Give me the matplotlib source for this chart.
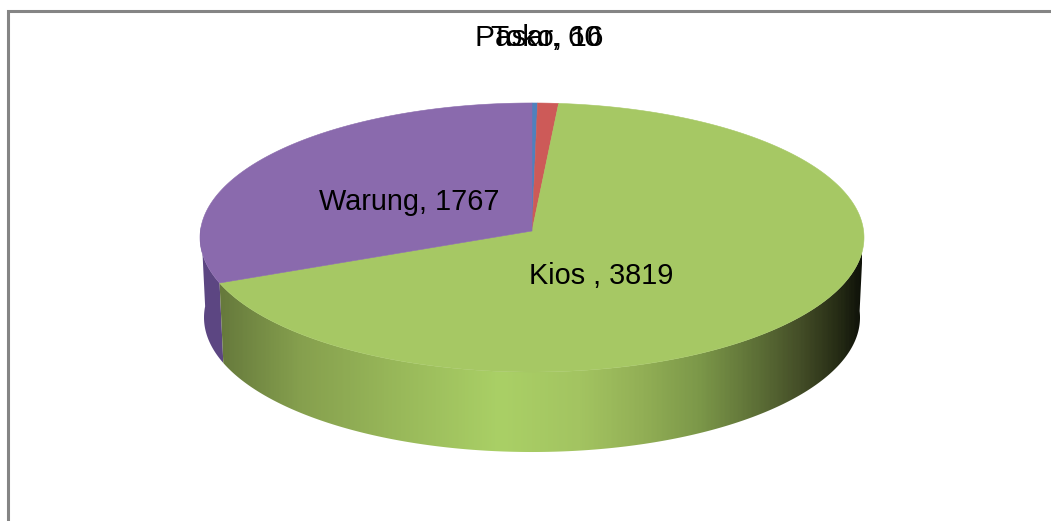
import numpy as np
import matplotlib
matplotlib.use("Agg")
import matplotlib.pyplot as plt
from matplotlib.colors import LinearSegmentedColormap
from matplotlib.patches import Polygon

categories = ["Toko", "Pasar", "Kios ", "Warung"]
values = [16, 60, 3819, 1767]
face_colors = ["#4f81bd", "#cd5a58", "#a6c864", "#8a6aad"]
side_purple = "#5c4682"

plt.rcParams["font.family"] = ["Liberation Sans", "DejaVu Sans"]
W, H = 1051, 521
fig = plt.figure(figsize=(W / 100, H / 100), dpi=100)
ax = fig.add_axes([0, 0, 1, 1])

# Projective view of a flat disc
CX, CY, A, B, P = 532, 231, 331.6, 134.2, 0.0483
DEPTH, SHRINK = 80, 0.988


def top_rim(deg):
    t = np.radians(deg)
    X, Y = np.sin(t), np.cos(t)
    w = 1 + P * Y
    return CX + A * X / w, CY - B * Y / w


def bottom_rim(deg):
    x, y = top_rim(deg)
    return CX + (x - CX) * SHRINK, y + DEPTH


def arc(a0, a1, fn):
    n = max(int(abs(a1 - a0) * 2), 8)
    x, y = fn(np.linspace(a0, a1, n))
    return np.column_stack([x, y])


edges = np.concatenate([[0], np.cumsum(values)]) / np.sum(values) * 360

# Sides: Kios shaded across x, Warung flat
kios_a0, kios_a1 = edges[2], edges[3]
green_side = np.vstack([arc(90, kios_a1, top_rim), arc(kios_a1, 90, bottom_rim)])
purple_side = np.vstack([arc(kios_a1, 272, top_rim), arc(272, kios_a1, bottom_rim)])

ax.add_patch(Polygon(purple_side, closed=True, fc=side_purple, ec="none", zorder=1))

stops = [(218, "#66793c"), (300, "#86a04e"), (400, "#99b95a"), (500, "#aad066"),
         (580, "#a3c461"), (640, "#93b056"), (700, "#7c9849"), (760, "#5c6e36"),
         (800, "#454f28"), (840, "#262c15"), (862, "#10130a")]
xs = np.array([s[0] for s in stops], float)
cmap = LinearSegmentedColormap.from_list(
    "side", [((x - xs[0]) / (xs[-1] - xs[0]), s[1]) for x, s in zip(xs, stops)])
img = ax.imshow(np.linspace(0, 1, 400)[None, :], cmap=cmap, aspect="auto",
                extent=(xs[0], xs[-1], 460, 230), zorder=2)
clip = Polygon(green_side, closed=True, fc="none", ec="none", transform=ax.transData)
ax.add_patch(clip)
img.set_clip_path(clip)

# Top faces
for i, col in enumerate(face_colors):
    rim = arc(edges[i], edges[i + 1], top_rim)
    pts = np.vstack([[CX, CY], rim])
    ax.add_patch(Polygon(pts, closed=True, fc=col, ec=col, lw=0.4, zorder=3))

# Labels
label_style = dict(color="#000000", va="center", zorder=5)
ax.text(491, 37.5, f"{categories[0]}, {values[0]}", ha="left", fontsize=21.4, **label_style)
ax.text(475, 37.5, f"{categories[1]}, {values[1]}", ha="left", fontsize=21.4, **label_style)
ax.text(601, 276.5, f"{categories[2]}, {values[2]}", ha="center", fontsize=20.8, **label_style)
ax.text(409, 202.5, f"{categories[3]}, {values[3]}", ha="center", fontsize=20.8, **label_style)

# Frame (top and left edges only are in view)
ax.plot([7.5, 7.5, W], [H, 10.5, 10.5], color="#858585", lw=2.2,
        solid_joinstyle="miter", zorder=6)

ax.set_xlim(0, W)
ax.set_ylim(H, 0)
ax.axis("off")
fig.savefig("out.png", dpi=100, facecolor="white")
